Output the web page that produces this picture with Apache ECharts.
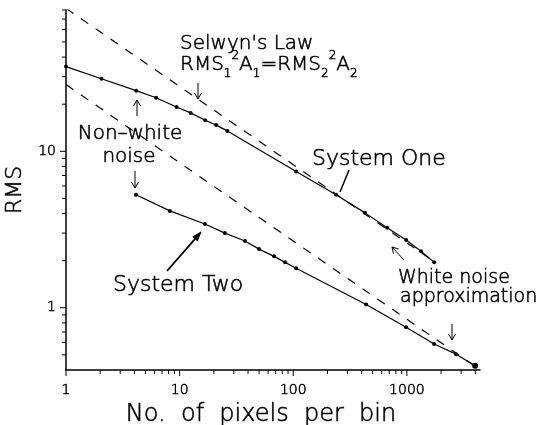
<!DOCTYPE html>
<html>
<head>
<meta charset="utf-8">
<script src="https://cdn.jsdelivr.net/npm/echarts/dist/echarts.min.js"></script>
<style>html,body{margin:0;padding:0;background:#fff}#c{width:544px;height:425px}</style>
</head>
<body>
<div id="c"></div>
<script>
// ---- data ----
const systemOneX = [1, 2.05, 4.15, 6.2, 9.4, 12.5, 16.8, 21, 26.3, 106, 238, 428, 670, 985, 1330, 1740];
const systemOneY = [34.8, 29.1, 24.4, 22.0, 19.2, 17.6, 15.8, 14.7, 13.5, 7.43, 5.28, 4.04, 3.24, 2.71, 2.30, 1.95];
const systemTwoX = [4.13, 8.2, 16.7, 25, 37.6, 50, 67.8, 84.7, 106, 438, 984, 1735, 2710, 3985];
const systemTwoY = [5.28, 4.16, 3.43, 3.00, 2.67, 2.37, 2.13, 1.95, 1.79, 1.05, 0.75, 0.586, 0.505, 0.426];
const selwynUpperX = [1, 1740];
const selwynUpperY = [82, 1.97];
const selwynLowerX = [1, 3985];
const selwynLowerY = [26.7, 0.423];
const xMajorTicks = [1, 10, 100, 1000];
const xMinorTicks = [2,3,4,5,6,7,8,9,20,30,40,50,60,70,80,90,200,300,400,500,600,700,800,900,2000,3000,4000];
const yMajorTicks = [1, 10];
const yMinorTicks = [0.5,0.6,0.7,0.8,0.9,2,3,4,5,6,7,8,9,20,30,40,50,60,70,80];
const X_MIN = 1, X_MAX = 4400, Y_MIN = 0.4, Y_MAX = 80;

const zip = (a, b) => a.map((v, i) => [v, b[i]]);
const FONT = 'DejaVu Sans';
const SW = 0.55; // extra stroke to darken the thin font
const isPow10 = v => Math.abs(Math.log10(v) - Math.round(Math.log10(v))) < 1e-6;

function tickSeries(vals, axis, len) {
  return {
    type: 'custom', silent: true, clip: false, z: 4,
    data: vals.map(v => axis === 'x' ? [v, Y_MIN] : [X_MIN, v]),
    renderItem: (params, api) => {
      const p = api.coord([api.value(0), api.value(1)]);
      const shape = axis === 'x'
        ? {x1: p[0], y1: p[1], x2: p[0], y2: p[1] + len}
        : {x1: p[0], y1: p[1], x2: p[0] - len, y2: p[1]};
      return {type: 'line', shape, style: {stroke: '#000', lineWidth: 1}};
    }
  };
}

function arrow(x1, y1, x2, y2, opts) {
  opts = opts || {};
  const hl = opts.headLen || 6, hw = opts.headW || 3.5, lw = opts.lw || 1;
  const dx = x2 - x1, dy = y2 - y1, L = Math.hypot(dx, dy);
  const ux = dx / L, uy = dy / L, nx = -uy, ny = ux;
  const bx = x2 - ux * hl, by = y2 - uy * hl;
  const children = [{
    type: 'line', shape: {x1, y1, x2: opts.filled ? bx : x2, y2: opts.filled ? by : y2},
    style: {stroke: '#000', lineWidth: lw}
  }];
  if (opts.filled) {
    children.push({type: 'polygon', shape: {points: [[x2, y2], [bx + nx * hw, by + ny * hw], [bx - nx * hw, by - ny * hw]]},
      style: {fill: '#000', stroke: '#000', lineWidth: 1}});
  } else if (!opts.noHead) {
    children.push({type: 'polyline', shape: {points: [[bx + nx * hw, by + ny * hw], [x2, y2], [bx - nx * hw, by - ny * hw]]},
      style: {stroke: '#000', lineWidth: lw, fill: null}});
  }
  return {type: 'group', silent: true, children};
}

function label(text, x, y, size, align) {
  return {type: 'text', x, y, silent: true,
    style: {text, font: `200 ${size}px "${FONT}"`, fill: '#000', stroke: '#000', lineWidth: SW,
      align: align || 'left', verticalAlign: 'middle'}};
}

const axisText = size => ({fontFamily: FONT, fontWeight: 200, fontSize: size, color: '#000',
  textBorderColor: '#000', textBorderWidth: SW});

const chart = echarts.init(document.getElementById('c'), null, {renderer: 'canvas'});
chart.setOption({
  animation: false,
  backgroundColor: '#fff',
  grid: {left: 66, right: 64, top: 10, bottom: 55, containLabel: false, outerBoundsMode: 'none'},
  xAxis: {
    type: 'log', logBase: 10, min: X_MIN, max: X_MAX,
    name: 'No.  of  pixels  per  bin', nameLocation: 'middle', nameGap: 27,
    nameTextStyle: Object.assign(axisText(24), {padding: [0, 24, 0, 0]}),
    axisLine: {lineStyle: {color: '#000', width: 1.5}},
    axisTick: {show: false}, splitLine: {show: false}, minorTick: {show: false},
    axisLabel: Object.assign(axisText(14), {margin: 13,
      formatter: v => isPow10(v) ? String(Math.round(v)) : ''})
  },
  yAxis: {
    type: 'log', logBase: 10, min: Y_MIN, max: Y_MAX,
    name: 'RMS', nameLocation: 'middle', nameGap: 37, nameRotate: 90,
    nameTextStyle: axisText(22),
    axisLine: {lineStyle: {color: '#000', width: 1.5}},
    axisTick: {show: false}, splitLine: {show: false}, minorTick: {show: false},
    axisLabel: Object.assign(axisText(14), {margin: 10,
      formatter: v => isPow10(v) ? String(Math.round(v)) : ''})
  },
  series: [
    {type: 'line', name: 'Selwyn upper', data: zip(selwynUpperX, selwynUpperY), symbol: 'none', silent: true,
      lineStyle: {color: '#000', width: 1.2, type: [9, 9]}, z: 2},
    {type: 'line', name: 'Selwyn lower', data: zip(selwynLowerX, selwynLowerY), symbol: 'none', silent: true,
      lineStyle: {color: '#000', width: 1.2, type: [9, 9]}, z: 2},
    {type: 'line', name: 'System One', data: zip(systemOneX, systemOneY), symbol: 'circle', symbolSize: 4, silent: true,
      itemStyle: {color: '#000'}, lineStyle: {color: '#000', width: 1.2}, z: 3},
    {type: 'line', name: 'System Two', data: zip(systemTwoX, systemTwoY), symbol: 'circle', silent: true,
      symbolSize: (v, p) => p.dataIndex === systemTwoX.length - 1 ? 6 : 4,
      itemStyle: {color: '#000'}, lineStyle: {color: '#000', width: 1.2}, z: 3},
    tickSeries(xMajorTicks, 'x', 6),
    tickSeries(xMinorTicks, 'x', 4),
    tickSeries(yMajorTicks, 'y', 6),
    tickSeries(yMinorTicks, 'y', 4)
  ],
  graphic: [
    label("Selwyn's Law", 180, 44, 20),
    {type: 'text', x: 180, y: 50, silent: true, style: {
      text: 'RMS{sub|1}{sup|2}A{sub|1}=RMS{sub|2}{sup|2}A{sub|2}',
      font: `200 20px "${FONT}"`, fill: '#000', stroke: '#000', lineWidth: SW, lineHeight: 30, verticalAlign: 'top',
      rich: {
        sub: {fontSize: 12, fontWeight: 200, fontFamily: FONT, fill: '#000', stroke: '#000', lineWidth: SW, lineHeight: 14, verticalAlign: 'bottom'},
        sup: {fontSize: 12, fontWeight: 200, fontFamily: FONT, fill: '#000', stroke: '#000', lineWidth: SW, lineHeight: 21, verticalAlign: 'top'}
      }}},
    arrow(198, 83, 198, 99),
    label('Non\u2013white', 130, 134, 20, 'center'),
    label('noise', 129, 157, 20, 'center'),
    arrow(137, 116, 137, 100),
    arrow(135, 171, 135, 188),
    label('System One', 312, 159, 22),
    arrow(349, 170, 340, 192, {noHead: true, lw: 1.5}),
    label('System Two', 113, 285, 22),
    arrow(167, 271, 201, 232, {filled: true, lw: 1.8, headLen: 9, headW: 3}),
    label('White noise', 398, 278, 19),
    label('approximation', 400, 297, 19),
    arrow(404, 260, 392, 247),
    arrow(452, 324, 452, 340)
  ]
});
</script>
</body>
</html>
